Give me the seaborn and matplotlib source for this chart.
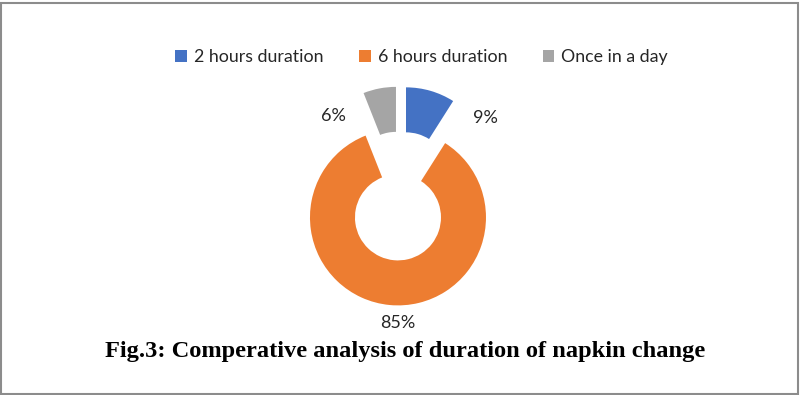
import matplotlib
matplotlib.use("Agg")
import matplotlib.pyplot as plt
import seaborn as sns
from matplotlib.patches import Rectangle

# --- data ---
categories = ["2 hours duration", "6 hours duration", "Once in a day"]
shares = [9, 85, 6]
pct_labels = ["9%", "85%", "6%"]
colors = ["#4472C4", "#ED7D31", "#A5A5A5"]

# --- layout (pixels, y measured upward) ---
W, H = 800, 395
center = (400, 199)
radius = 88
ring_width = 45
explode_px = 21.5
label_pos = [(485, 277), (398, 72), (333, 279)]

sns.set_theme(style="white")
plt.rcParams["font.family"] = ["Lato", "DejaVu Sans"]

fig = plt.figure(figsize=(W / 100, H / 100), dpi=100)
ax = fig.add_axes([0, 0, 1, 1])

wedges, _ = ax.pie(shares, colors=colors, startangle=90, counterclock=False,
                   center=center, radius=radius,
                   explode=[explode_px] * len(shares),
                   wedgeprops=dict(width=ring_width, linewidth=0))

for (x, y), txt in zip(label_pos, pct_labels):
    ax.text(x, y, txt, ha="center", va="center", fontsize=13, color="#262626")

ax.set_xlim(0, W)
ax.set_ylim(0, H)
ax.set_aspect("equal")
ax.axis("off")

fig.legend(wedges, categories, loc="center", bbox_to_anchor=(0.527, 1 - 57 / H),
           ncol=3, frameon=False, fontsize=12.8, handlelength=0.65, handleheight=0.65,
           handletextpad=0.4, columnspacing=2.0, labelcolor="#262626")

fig.text(405 / W, 1 - 352 / H, "Fig.3: Comperative analysis of duration of napkin change",
         ha="center", va="center", fontsize=17.6, fontweight="bold",
         family="Liberation Serif", color="black")

# thin grey frame round the picture
fig.patches.append(Rectangle((0.0015, 0.003), 0.996, 0.99, transform=fig.transFigure,
                             fill=False, edgecolor="#8c8c8c", linewidth=1.5))

fig.savefig("out.png", dpi=100)
